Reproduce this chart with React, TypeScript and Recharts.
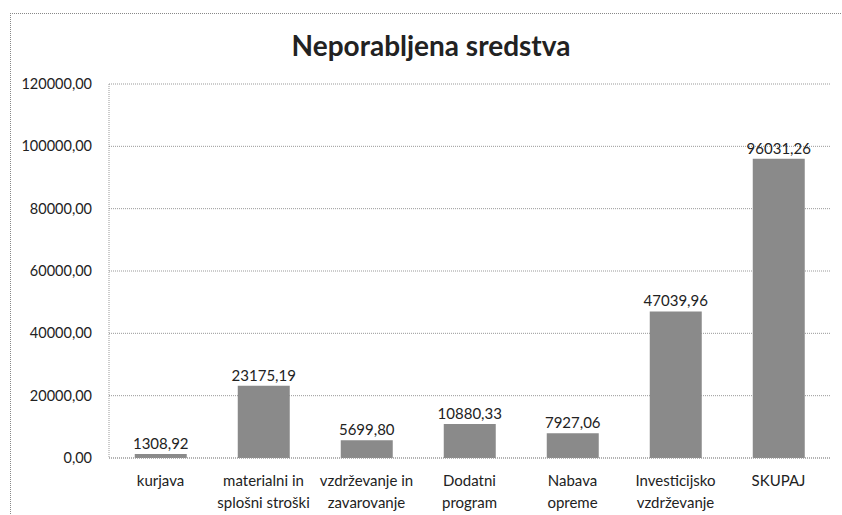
import { BarChart, Bar, XAxis, YAxis, CartesianGrid, LabelList } from 'recharts'

const categories = [
  'kurjava',
  'materialni in\nsplošni stroški',
  'vzdrževanje in\nzavarovanje',
  'Dodatni\nprogram',
  'Nabava\nopreme',
  'Investicijsko\nvzdrževanje',
  'SKUPAJ',
]
const values = [1308.92, 23175.19, 5699.8, 10880.33, 7927.06, 47039.96, 96031.26]
const yTicks = [0, 20000, 40000, 60000, 80000, 100000, 120000]

const rows = categories.map((name, i) => ({ name, value: values[i] }))

const font = 'Lato, "Open Sans", sans-serif'
const fmt = (v: number) => v.toFixed(2).replace('.', ',')

// eslint-disable-next-line @typescript-eslint/no-explicit-any
function CatTick({ x, y, payload }: any) {
  const lines = String(payload.value).split('\n')
  return (
    <text x={x} y={y} textAnchor="middle" fill="#222" fontSize={15} fontFamily={font}>
      {lines.map((l, i) => (
        <tspan key={i} x={x} dy={i === 0 ? 20 : 22}>
          {l}
        </tspan>
      ))}
    </text>
  )
}

export default function App() {
  return (
    <div style={{ position: 'absolute', left: 0, top: 0, width: 842, height: 515, background: '#fff', overflow: 'hidden' }}>
      <div
        style={{
          position: 'absolute',
          left: 10,
          top: 13,
          width: 840,
          height: 520,
          borderTop: '1px dotted #888',
          borderLeft: '1px dotted #888',
        }}
      />
      <div
        style={{
          position: 'absolute',
          left: 20,
          top: 28,
          width: 822,
          textAlign: 'center',
          fontFamily: font,
          fontWeight: 700,
          fontSize: 28,
          color: '#222',
        }}
      >
        Neporabljena sredstva
      </div>
      <div style={{ position: 'absolute', left: 0, top: 0 }}>
        <BarChart
          width={842}
          height={515}
          data={rows}
          margin={{ top: 84, right: 12, left: 0, bottom: 0 }}
          barCategoryGap="25%"
        >
          <CartesianGrid vertical={false} stroke="#999" strokeDasharray="1 1" />
          <XAxis
            dataKey="name"
            interval={0}
            tick={<CatTick />}
            tickLine={false}
            axisLine={{ stroke: '#999', strokeDasharray: '1 1' }}
            height={57}
          />
          <YAxis
            width={109}
            domain={[0, 120000]}
            ticks={yTicks}
            tickFormatter={fmt}
            tickLine={false}
            tickMargin={11}
            axisLine={{ stroke: '#999', strokeDasharray: '1 1' }}
            tick={{ fill: '#222', fontSize: 14.5, fontFamily: font }}
          />
          <Bar dataKey="value" fill="#8a8a8a" isAnimationActive={false}>
            <LabelList
              dataKey="value"
              position="top"
              offset={5}
              formatter={(v: unknown) => fmt(Number(v))}
              style={{ fill: '#222', fontSize: 15, fontFamily: font }}
            />
          </Bar>
        </BarChart>
      </div>
    </div>
  )
}
